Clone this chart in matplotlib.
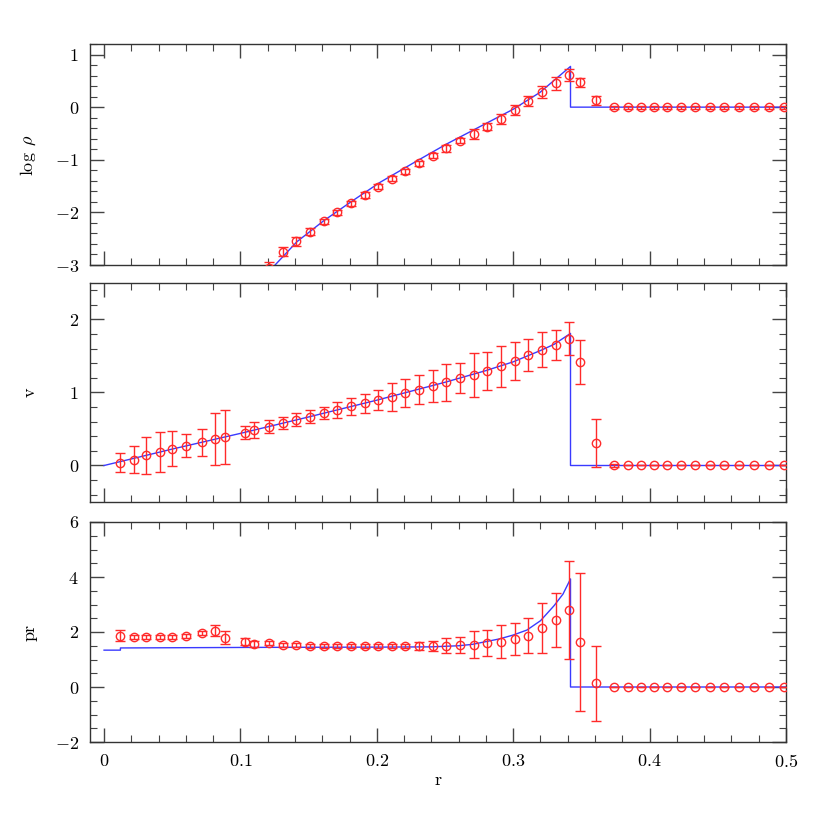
import matplotlib
matplotlib.use("Agg")
import matplotlib.pyplot as plt
from matplotlib.ticker import MultipleLocator, FuncFormatter
import numpy as np

plt.rcParams['font.family'] = ['cmr10', 'DejaVu Serif']
plt.rcParams['mathtext.fontset'] = 'cm'
plt.rcParams['axes.formatter.use_mathtext'] = True
plt.rcParams['axes.unicode_minus'] = True

# ---- sampled points (radius) ----
r_pts = [0.012, 0.022, 0.031, 0.041, 0.050, 0.060, 0.072, 0.081, 0.089, 0.103,
         0.110, 0.121, 0.131, 0.141, 0.151, 0.161, 0.171, 0.181, 0.191, 0.201,
         0.211, 0.221, 0.231, 0.241, 0.251, 0.261, 0.271, 0.281, 0.291, 0.301,
         0.311, 0.321, 0.331, 0.341, 0.349, 0.361, 0.374, 0.384, 0.3935, 0.403,
         0.413, 0.423, 0.4335, 0.444, 0.4547, 0.4655, 0.4767, 0.4877, 0.4987]

# log density (points with r >= 0.121)
r_rho = r_pts[11:]
logrho = [-3.05, -2.745, -2.55, -2.365, -2.17, -2.0, -1.83, -1.67, -1.515, -1.36,
          -1.22, -1.07, -0.925, -0.78, -0.64, -0.51, -0.37, -0.22, -0.05, 0.115,
          0.29, 0.455, 0.61, 0.47, 0.13,
          0, 0, 0, 0, 0, 0, 0, 0, 0, 0, 0, 0, 0]
logrho_err = [0.10, 0.08, 0.08, 0.065, 0.05, 0.045, 0.05, 0.05, 0.045, 0.05,
              0.045, 0.05, 0.05, 0.07, 0.05, 0.09, 0.07, 0.095, 0.095, 0.10,
              0.12, 0.12, 0.12, 0.085, 0.08,
              0.03, 0.03, 0.03, 0.03, 0.03, 0.03, 0.03, 0.03, 0.03, 0.03, 0.03, 0.03, 0.03]

# velocity
vel = [0.036, 0.082, 0.14, 0.187, 0.228, 0.27, 0.32, 0.36, 0.39, 0.45,
       0.48, 0.53, 0.58, 0.63, 0.67, 0.72, 0.76, 0.81, 0.85, 0.90,
       0.94, 0.99, 1.04, 1.09, 1.14, 1.20, 1.24, 1.30, 1.36, 1.43,
       1.51, 1.585, 1.65, 1.735, 1.415, 0.31,
       0, 0, 0, 0, 0, 0, 0, 0, 0, 0, 0, 0, 0]
vel_err = [0.13, 0.19, 0.25, 0.27, 0.24, 0.155, 0.185, 0.36, 0.37, 0.09,
           0.11, 0.087, 0.085, 0.09, 0.094, 0.087, 0.107, 0.114, 0.13, 0.14,
           0.196, 0.19, 0.20, 0.217, 0.25, 0.21, 0.295, 0.26, 0.28, 0.26,
           0.22, 0.24, 0.21, 0.226, 0.30, 0.33,
           0.02, 0, 0, 0, 0, 0, 0, 0, 0, 0, 0, 0, 0]

# pressure * r
pr = [1.87, 1.81, 1.81, 1.81, 1.82, 1.85, 1.96, 2.04, 1.80, 1.65,
      1.56, 1.59, 1.54, 1.54, 1.50, 1.50, 1.50, 1.50, 1.50, 1.50,
      1.50, 1.50, 1.50, 1.48, 1.50, 1.52, 1.54, 1.59, 1.65, 1.74,
      1.87, 2.13, 2.43, 2.80, 1.62, 0.135,
      0, 0, 0, 0, 0, 0, 0, 0, 0, 0, 0, 0, 0]
pr_err = [0.19, 0.07, 0.07, 0.07, 0.07, 0.07, 0.08, 0.20, 0.25, 0.12,
          0.10, 0.08, 0.07, 0.07, 0.07, 0.07, 0.07, 0.07, 0.07, 0.07,
          0.07, 0.07, 0.15, 0.18, 0.27, 0.30, 0.50, 0.47, 0.61, 0.58,
          0.63, 0.91, 0.98, 1.78, 2.51, 1.37,
          0, 0, 0, 0, 0, 0, 0, 0, 0, 0, 0, 0, 0]

# ---- analytic solution curves ----
r_rho_line = [0.120, 0.1254, 0.1413, 0.161, 0.1816, 0.2023, 0.2265, 0.2512, 0.300, 0.3196, 0.342, 0.342, 0.5]
logrho_line = [-3.17, -3.0, -2.56, -2.16, -1.79, -1.43, -1.065, -0.70, -0.04, 0.28, 0.774, 0.0, 0.0]

r_v_line = [0.0, 0.05, 0.10, 0.15, 0.20, 0.25, 0.28, 0.30, 0.32, 0.33, 0.342, 0.342, 0.5]
v_line = [0.0, 0.225, 0.44, 0.665, 0.895, 1.14, 1.30, 1.42, 1.575, 1.66, 1.81, 0.0, 0.0]

r_p_line = [0.0, 0.012, 0.012, 0.11, 0.20, 0.24, 0.25, 0.26, 0.27, 0.28, 0.29, 0.30,
            0.31, 0.32, 0.33, 0.3365, 0.342, 0.342, 0.5]
p_line = [1.34, 1.34, 1.42, 1.44, 1.45, 1.46, 1.48, 1.50, 1.55, 1.65, 1.75, 1.89,
          2.07, 2.41, 2.96, 3.38, 3.93, 0.0, 0.0]

red = '#ff2a2a'
blue = '#3a3aff'


def fmt(v, pos):
    s = f'{v:g}'
    if abs(v) < 1e-9:
        s = '0'
    s = s.replace('-', '\u2212')
    return f'${s}$'


fig = plt.figure(figsize=(8.3, 8.3), dpi=100)
L, W = 90 / 830, (786 - 90) / 830
ax1 = fig.add_axes([L, 1 - 265 / 830, W, (265 - 44) / 830])
ax2 = fig.add_axes([L, 1 - 502 / 830, W, (502 - 283) / 830])
ax3 = fig.add_axes([L, 1 - 742 / 830, W, (742 - 522) / 830])

panels = [
    (ax1, r_rho, logrho, logrho_err, r_rho_line, logrho_line, (-3, 1.2), 1, 0.2, r'$\log\ \rho$'),
    (ax2, r_pts, vel, vel_err, r_v_line, v_line, (-0.5, 2.5), 1, 0.2, 'v'),
    (ax3, r_pts, pr, pr_err, r_p_line, p_line, (-2, 6), 2, 0.5, 'pr'),
]

for ax, xs, ys, es, xl, yl, ylim, maj, mnr, lab in panels:
    ax.plot(xl, yl, color=blue, lw=1.0, zorder=2)
    ax.errorbar(xs, ys, yerr=es, fmt='o', ms=6, mfc='none', mec=red, mew=1.0,
                ecolor=red, elinewidth=1.0, capsize=3.5, capthick=1.0, zorder=3)
    ax.set_xlim(-0.0103, 0.5)
    ax.set_ylim(*ylim)
    ax.xaxis.set_major_locator(MultipleLocator(0.1))
    ax.xaxis.set_minor_locator(MultipleLocator(0.02))
    ax.yaxis.set_major_locator(MultipleLocator(maj))
    ax.yaxis.set_minor_locator(MultipleLocator(mnr))
    ax.xaxis.set_major_formatter(FuncFormatter(fmt))
    ax.yaxis.set_major_formatter(FuncFormatter(fmt))
    ax.tick_params(which='both', direction='in', top=True, right=True, color='#444444')
    ax.tick_params(which='major', length=10, width=1, labelsize=13, pad=8)
    ax.tick_params(which='minor', length=5, width=0.8)
    for s in ax.spines.values():
        s.set_color('#333333')
        s.set_linewidth(1.0)
    ax.set_ylabel(lab, fontsize=13)
    ax.yaxis.set_label_coords(-0.075, 0.5)

ax1.tick_params(labelbottom=False)
ax2.tick_params(labelbottom=False)
ax3.set_xlabel('r', fontsize=13, labelpad=2)

fig.savefig('out.png', dpi=100)
